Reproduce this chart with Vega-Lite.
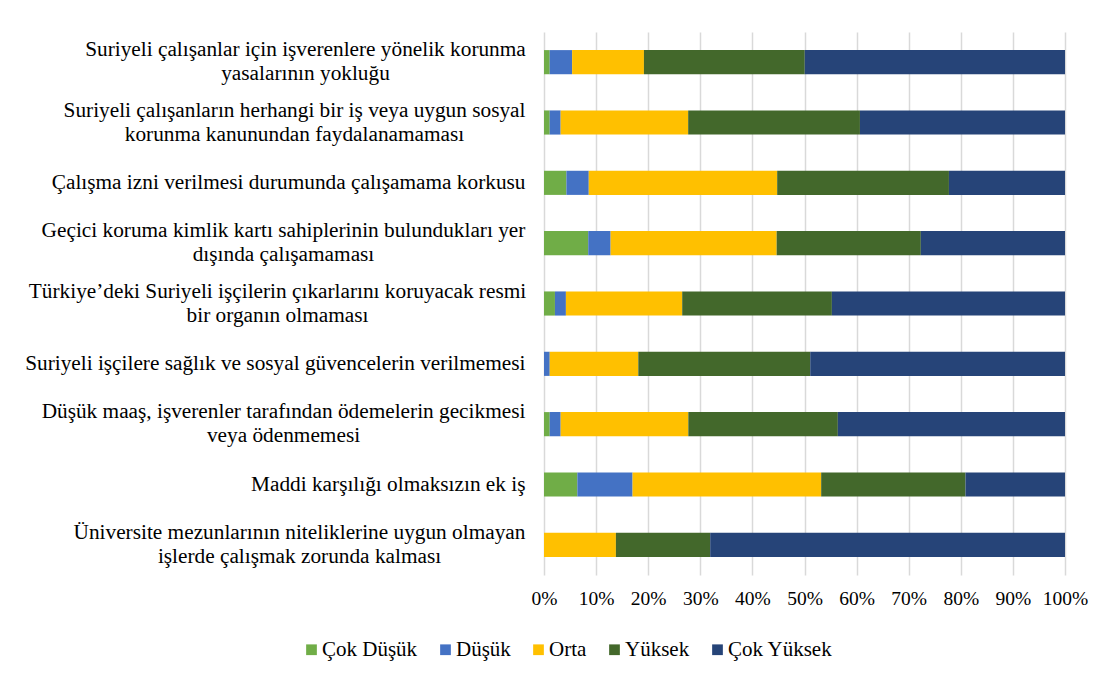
{
  "$schema": "https://vega.github.io/schema/vega-lite/v6.json",
  "width": 521,
  "height": 543,
  "autosize": {"type": "none"},
  "padding": {"left": 544, "top": 32, "right": 47, "bottom": 109},
  "background": "white",
  "config": {
    "view": {"stroke": null},
    "font": "Liberation Serif",
    "axis": {"labelFont": "Liberation Serif", "labelColor": "#000000"},
    "legend": {"labelFont": "Liberation Serif", "labelColor": "#000000"}
  },
  "data": {
    "values": [
      {"q": 1, "label": "Suriyeli çalışanlar için işverenlere yönelik korunma|yasalarının yokluğu", "k": 1, "s": "Çok Düşük", "v": 1.1},
      {"q": 1, "label": "Suriyeli çalışanlar için işverenlere yönelik korunma|yasalarının yokluğu", "k": 2, "s": "Düşük", "v": 4.3},
      {"q": 1, "label": "Suriyeli çalışanlar için işverenlere yönelik korunma|yasalarının yokluğu", "k": 3, "s": "Orta", "v": 13.8},
      {"q": 1, "label": "Suriyeli çalışanlar için işverenlere yönelik korunma|yasalarının yokluğu", "k": 4, "s": "Yüksek", "v": 30.9},
      {"q": 1, "label": "Suriyeli çalışanlar için işverenlere yönelik korunma|yasalarının yokluğu", "k": 5, "s": "Çok Yüksek", "v": 50.0},
      {"q": 2, "label": "Suriyeli çalışanların herhangi bir iş veya uygun sosyal|korunma kanunundan faydalanamaması", "k": 1, "s": "Çok Düşük", "v": 1.1},
      {"q": 2, "label": "Suriyeli çalışanların herhangi bir iş veya uygun sosyal|korunma kanunundan faydalanamaması", "k": 2, "s": "Düşük", "v": 2.1},
      {"q": 2, "label": "Suriyeli çalışanların herhangi bir iş veya uygun sosyal|korunma kanunundan faydalanamaması", "k": 3, "s": "Orta", "v": 24.5},
      {"q": 2, "label": "Suriyeli çalışanların herhangi bir iş veya uygun sosyal|korunma kanunundan faydalanamaması", "k": 4, "s": "Yüksek", "v": 33.0},
      {"q": 2, "label": "Suriyeli çalışanların herhangi bir iş veya uygun sosyal|korunma kanunundan faydalanamaması", "k": 5, "s": "Çok Yüksek", "v": 39.4},
      {"q": 3, "label": "Çalışma izni verilmesi durumunda çalışamama korkusu", "k": 1, "s": "Çok Düşük", "v": 4.3},
      {"q": 3, "label": "Çalışma izni verilmesi durumunda çalışamama korkusu", "k": 2, "s": "Düşük", "v": 4.3},
      {"q": 3, "label": "Çalışma izni verilmesi durumunda çalışamama korkusu", "k": 3, "s": "Orta", "v": 36.2},
      {"q": 3, "label": "Çalışma izni verilmesi durumunda çalışamama korkusu", "k": 4, "s": "Yüksek", "v": 33.0},
      {"q": 3, "label": "Çalışma izni verilmesi durumunda çalışamama korkusu", "k": 5, "s": "Çok Yüksek", "v": 22.3},
      {"q": 4, "label": "Geçici koruma kimlik kartı sahiplerinin bulundukları yer|dışında çalışamaması", "k": 1, "s": "Çok Düşük", "v": 8.5},
      {"q": 4, "label": "Geçici koruma kimlik kartı sahiplerinin bulundukları yer|dışında çalışamaması", "k": 2, "s": "Düşük", "v": 4.3},
      {"q": 4, "label": "Geçici koruma kimlik kartı sahiplerinin bulundukları yer|dışında çalışamaması", "k": 3, "s": "Orta", "v": 31.9},
      {"q": 4, "label": "Geçici koruma kimlik kartı sahiplerinin bulundukları yer|dışında çalışamaması", "k": 4, "s": "Yüksek", "v": 27.7},
      {"q": 4, "label": "Geçici koruma kimlik kartı sahiplerinin bulundukları yer|dışında çalışamaması", "k": 5, "s": "Çok Yüksek", "v": 27.7},
      {"q": 5, "label": "Türkiye’deki Suriyeli işçilerin çıkarlarını koruyacak resmi|bir organın olmaması", "k": 1, "s": "Çok Düşük", "v": 2.1},
      {"q": 5, "label": "Türkiye’deki Suriyeli işçilerin çıkarlarını koruyacak resmi|bir organın olmaması", "k": 2, "s": "Düşük", "v": 2.1},
      {"q": 5, "label": "Türkiye’deki Suriyeli işçilerin çıkarlarını koruyacak resmi|bir organın olmaması", "k": 3, "s": "Orta", "v": 22.3},
      {"q": 5, "label": "Türkiye’deki Suriyeli işçilerin çıkarlarını koruyacak resmi|bir organın olmaması", "k": 4, "s": "Yüksek", "v": 28.7},
      {"q": 5, "label": "Türkiye’deki Suriyeli işçilerin çıkarlarını koruyacak resmi|bir organın olmaması", "k": 5, "s": "Çok Yüksek", "v": 44.7},
      {"q": 6, "label": "Suriyeli işçilere sağlık ve sosyal güvencelerin verilmemesi", "k": 1, "s": "Çok Düşük", "v": 0},
      {"q": 6, "label": "Suriyeli işçilere sağlık ve sosyal güvencelerin verilmemesi", "k": 2, "s": "Düşük", "v": 1.1},
      {"q": 6, "label": "Suriyeli işçilere sağlık ve sosyal güvencelerin verilmemesi", "k": 3, "s": "Orta", "v": 17.0},
      {"q": 6, "label": "Suriyeli işçilere sağlık ve sosyal güvencelerin verilmemesi", "k": 4, "s": "Yüksek", "v": 33.0},
      {"q": 6, "label": "Suriyeli işçilere sağlık ve sosyal güvencelerin verilmemesi", "k": 5, "s": "Çok Yüksek", "v": 48.9},
      {"q": 7, "label": "Düşük maaş, işverenler tarafından ödemelerin gecikmesi|veya ödenmemesi", "k": 1, "s": "Çok Düşük", "v": 1.1},
      {"q": 7, "label": "Düşük maaş, işverenler tarafından ödemelerin gecikmesi|veya ödenmemesi", "k": 2, "s": "Düşük", "v": 2.1},
      {"q": 7, "label": "Düşük maaş, işverenler tarafından ödemelerin gecikmesi|veya ödenmemesi", "k": 3, "s": "Orta", "v": 24.5},
      {"q": 7, "label": "Düşük maaş, işverenler tarafından ödemelerin gecikmesi|veya ödenmemesi", "k": 4, "s": "Yüksek", "v": 28.7},
      {"q": 7, "label": "Düşük maaş, işverenler tarafından ödemelerin gecikmesi|veya ödenmemesi", "k": 5, "s": "Çok Yüksek", "v": 43.6},
      {"q": 8, "label": "Maddi karşılığı olmaksızın ek iş", "k": 1, "s": "Çok Düşük", "v": 6.4},
      {"q": 8, "label": "Maddi karşılığı olmaksızın ek iş", "k": 2, "s": "Düşük", "v": 10.6},
      {"q": 8, "label": "Maddi karşılığı olmaksızın ek iş", "k": 3, "s": "Orta", "v": 36.2},
      {"q": 8, "label": "Maddi karşılığı olmaksızın ek iş", "k": 4, "s": "Yüksek", "v": 27.7},
      {"q": 8, "label": "Maddi karşılığı olmaksızın ek iş", "k": 5, "s": "Çok Yüksek", "v": 19.1},
      {"q": 9, "label": "Üniversite mezunlarının niteliklerine uygun olmayan|işlerde çalışmak zorunda kalması", "k": 1, "s": "Çok Düşük", "v": 0},
      {"q": 9, "label": "Üniversite mezunlarının niteliklerine uygun olmayan|işlerde çalışmak zorunda kalması", "k": 2, "s": "Düşük", "v": 0},
      {"q": 9, "label": "Üniversite mezunlarının niteliklerine uygun olmayan|işlerde çalışmak zorunda kalması", "k": 3, "s": "Orta", "v": 13.8},
      {"q": 9, "label": "Üniversite mezunlarının niteliklerine uygun olmayan|işlerde çalışmak zorunda kalması", "k": 4, "s": "Yüksek", "v": 18.1},
      {"q": 9, "label": "Üniversite mezunlarının niteliklerine uygun olmayan|işlerde çalışmak zorunda kalması", "k": 5, "s": "Çok Yüksek", "v": 68.1}
    ]
  },
  "mark": {"type": "bar"},
  "encoding": {
    "y": {
      "field": "label",
      "type": "nominal",
      "sort": {"field": "q", "op": "min"},
      "scale": {"paddingInner": 0.6, "paddingOuter": 0.3},
      "axis": {
        "title": null,
        "domain": false,
        "ticks": false,
        "grid": false,
        "labelExpr": "split(datum.label, '|')",
        "labelFontSize": 21.3,
        "labelLineHeight": 24,
        "labelAlign": {"condition": {"test": "indexof(datum.value, '|') >= 0", "value": "center"}, "value": "right"},
        "labelPadding": {
          "condition": [
            {"test": "indexof(datum.value, 'Suriyeli çalışanlar için') === 0", "value": 239},
            {"test": "indexof(datum.value, 'Suriyeli çalışanların') === 0", "value": 250},
            {"test": "indexof(datum.value, 'Geçici') === 0", "value": 261},
            {"test": "indexof(datum.value, 'Türkiye') === 0", "value": 267},
            {"test": "indexof(datum.value, 'Düşük maaş') === 0", "value": 261},
            {"test": "indexof(datum.value, 'Üniversite') === 0", "value": 245}
          ],
          "value": 19
        },
        "labelBaseline": {"condition": {"test": "indexof(datum.value, '|') >= 0", "value": "line-bottom"}, "value": "middle"},
        "labelLimit": 0
      }
    },
    "x": {
      "field": "v",
      "type": "quantitative",
      "stack": "normalize",
      "scale": {"domain": [0, 1], "nice": false},
      "axis": {
        "title": null,
        "format": ".0%",
        "values": [0, 0.1, 0.2, 0.3, 0.4, 0.5, 0.6, 0.7, 0.8, 0.9, 1],
        "domain": false,
        "ticks": false,
        "grid": true,
        "gridColor": "#d9d9d9",
        "gridWidth": 1.5,
        "labelFontSize": 19.5,
        "labelPadding": 14,
        "labelFlush": false
      }
    },
    "color": {
      "field": "s",
      "type": "nominal",
      "sort": ["Çok Düşük", "Düşük", "Orta", "Yüksek", "Çok Yüksek"],
      "scale": {
        "domain": ["Çok Düşük", "Düşük", "Orta", "Yüksek", "Çok Yüksek"],
        "range": ["#70AD47", "#4472C4", "#FFC000", "#43682B", "#264478"]
      },
      "legend": {
        "title": null,
        "orient": "none",
        "direction": "horizontal",
        "legendX": -243,
        "legendY": 607,
        "symbolType": "square",
        "symbolSize": 115,
        "symbolStrokeWidth": 0,
        "labelFontSize": 21,
        "labelOffset": 0,
        "columnPadding": 17,
        "labelLimit": 0
      }
    },
    "order": {"field": "k", "type": "quantitative"}
  }
}
